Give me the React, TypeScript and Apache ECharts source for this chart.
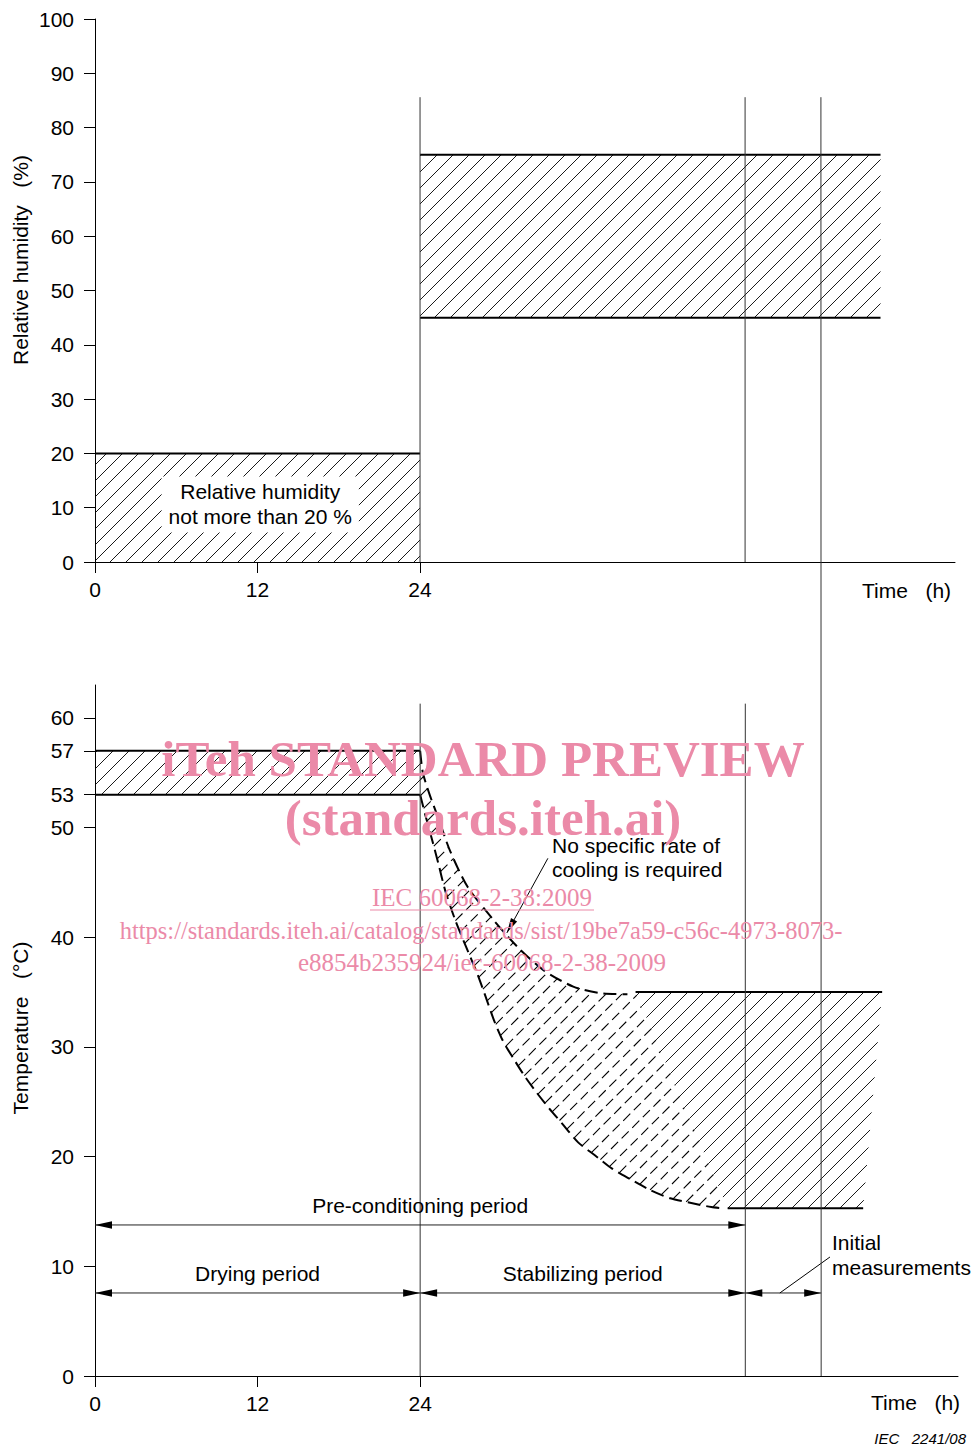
import React, { useEffect, useRef } from 'react';
import * as echarts from 'echarts';

// ---------- data ----------
const timeTicks = [0, 12, 24];
const rhTicks = [0, 10, 20, 30, 40, 50, 60, 70, 80, 90, 100];
const tempTicks = [0, 10, 20, 30, 40, 50, 53, 57, 60];

// [start h, end h, lower, upper]
const rhDrying = [0, 24, 0, 20];
const rhStabilizing = [24, 58, 45, 75];
const tempDrying = [0, 24, 53, 57];

// cooling envelope (h, °C)
const upperCooling = [
  [24, 57], [24.2, 55], [24.7, 53], [25.3, 51], [26.2, 47.9], [27.5, 44.6], [29.4, 41.6],
  [31.2, 39.1], [33.1, 37], [35.3, 35.5], [37.3, 34.9], [39.3, 34.8],
];
const lowerCooling = [
  [24, 53], [24.37, 51.2], [24.88, 48.9], [25.33, 46.8], [25.84, 44.3], [26.58, 41.6],
  [27.4, 39.1], [28.21, 36.7], [28.8, 34.7], [29.46, 32.4], [30.13, 30.5], [30.86, 29.0],
  [31.68, 27.4], [32.56, 25.9], [33.52, 24.4], [34.56, 22.9], [35.66, 21.3], [36.92, 20.1],
  [38.17, 18.9], [39.58, 17.9], [40.91, 17.0], [42.46, 16.2], [43.93, 15.8], [45.49, 15.4],
  [46.3, 15.3],
];
// stabilised limits: [start h, end h, °C]
const stabUpper = [39.9, 58.1, 35];
const stabLower = [46.7, 56.7, 15.3];

const periodMarks = [24, 48];
const measureEnd = 53.6;
const rhMarkTop = 85.6;
const tempMarkTop = 61.3;

const periods = [
  { label: 'Pre-conditioning period', from: 0, to: 48, at: 13.77 },
  { label: 'Drying period', from: 0, to: 24, at: 7.57 },
  { label: 'Stabilizing period', from: 24, to: 48, at: 7.57 },
  { label: '', from: 48, to: 53.6, at: 7.57 },
];

const rhNote = { text: 'Relative humidity\nnot more than 20 %', at: [12.2, 10.6] };
const coolingNote = { text: 'No specific rate of\ncooling is required', at: [33.73, 47.3], from: [33.43, 47.2], to: [30.4, 40.4] };
const initialNote = { text: 'Initial\nmeasurements', at: [54.4, 11.0], from: [50.55, 7.57], to: [54.25, 10.85] };

// ---------- helpers ----------
const FONT = '"Liberation Sans", Arial, sans-serif';
const SERIF = '"Liberation Serif", "Times New Roman", serif';
const HATCH = 16;

function hatchSegments(poly: number[][], step: number) {
  const sums = poly.map((p) => p[0] + p[1]);
  const cMin = Math.min(...sums);
  const cMax = Math.max(...sums);
  const segs: number[][][] = [];
  for (let c = Math.ceil(cMin / step) * step; c <= cMax; c += step) {
    const us: number[] = [];
    for (let i = 0; i < poly.length; i++) {
      const a = poly[i];
      const b = poly[(i + 1) % poly.length];
      const sa = a[0] + a[1] - c;
      const sb = b[0] + b[1] - c;
      if ((sa < 0 && sb >= 0) || (sa >= 0 && sb < 0)) {
        const t = sa / (sa - sb);
        const x = a[0] + t * (b[0] - a[0]);
        const y = a[1] + t * (b[1] - a[1]);
        us.push(x - y);
      }
    }
    us.sort((p, q) => p - q);
    for (let k = 0; k + 1 < us.length; k += 2) {
      const u1 = us[k];
      const u2 = us[k + 1];
      segs.push([[(c + u1) / 2, (c - u1) / 2], [(c + u2) / 2, (c - u2) / 2]]);
    }
  }
  return segs;
}

function arrowHead(tip: number[], from: number[], len: number, half: number) {
  const dx = tip[0] - from[0];
  const dy = tip[1] - from[1];
  const d = Math.hypot(dx, dy) || 1;
  const ux = dx / d;
  const uy = dy / d;
  const bx = tip[0] - ux * len;
  const by = tip[1] - uy * len;
  return [tip, [bx - uy * half, by + ux * half], [bx + uy * half, by - ux * half]];
}

function seg(a: number[], b: number[], w: number, dash?: number[], color = '#000') {
  const style: any = { stroke: color, lineWidth: w };
  if (dash) style.lineDash = dash;
  return { type: 'line', shape: { x1: a[0], y1: a[1], x2: b[0], y2: b[1] }, style };
}

function txt(p: number[], text: string, align: string, lineHeight = 25) {
  return {
    type: 'text', x: p[0], y: p[1],
    style: { text, fill: '#000', font: `21px ${FONT}`, align, verticalAlign: 'middle', lineHeight },
  };
}

// ---------- render functions ----------
function renderTop(params: any, api: any) {
  const P = (x: number, y: number) => api.coord([x, y]);
  const ch: any[] = [];
  for (const b of [rhDrying, rhStabilizing]) {
    const poly = [P(b[0], b[2]), P(b[1], b[2]), P(b[1], b[3]), P(b[0], b[3])];
    hatchSegments(poly, HATCH).forEach((s) => ch.push(seg(s[0], s[1], 0.9)));
  }
  ch.push(seg(P(rhDrying[0], rhDrying[3]), P(rhDrying[1], rhDrying[3]), 2));
  ch.push(seg(P(rhStabilizing[0], rhStabilizing[2]), P(rhStabilizing[1], rhStabilizing[2]), 2));
  ch.push(seg(P(rhStabilizing[0], rhStabilizing[3]), P(rhStabilizing[1], rhStabilizing[3]), 2));
  periodMarks.forEach((t) => ch.push(seg(P(t, rhMarkTop), P(t, 0), 1, undefined, '#333')));
  const c = P(rhNote.at[0], rhNote.at[1]);
  ch.push({
    type: 'text', x: c[0], y: c[1], z2: 10,
    style: {
      text: rhNote.text, fill: '#000', font: `21px ${FONT}`, align: 'center', verticalAlign: 'middle',
      lineHeight: 25, backgroundColor: '#fff', padding: [3, 7],
    },
  });
  return { type: 'group', children: ch };
}

function renderBottom(params: any, api: any) {
  const P = (x: number, y: number) => api.coord([x, y]);
  const ch: any[] = [];
  const band = [
    P(tempDrying[0], tempDrying[2]), P(tempDrying[1], tempDrying[2]),
    P(tempDrying[1], tempDrying[3]), P(tempDrying[0], tempDrying[3]),
  ];
  hatchSegments(band, HATCH).forEach((s) => ch.push(seg(s[0], s[1], 0.9)));
  const up = upperCooling.map((p) => P(p[0], p[1]));
  const lo = lowerCooling.map((p) => P(p[0], p[1]));
  const d1 = P(stabUpper[0], stabUpper[2]);
  const e1 = P(stabUpper[1], stabUpper[2]);
  const d2 = P(stabLower[0], stabLower[2]);
  const e2 = P(stabLower[1], stabLower[2]);
  const polyA = [...up, d1, d2, ...lo.slice().reverse()];
  const polyB = [d1, e1, e2, d2];
  hatchSegments(polyA, HATCH).forEach((s) => ch.push(seg(s[0], s[1], 1.1, [10, 5])));
  hatchSegments(polyB, HATCH).forEach((s) => ch.push(seg(s[0], s[1], 0.9)));

  ch.push(seg(band[3], band[2], 2));
  ch.push(seg(band[0], band[1], 2));
  ch.push({ type: 'polyline', shape: { points: up, smooth: 0.25 }, style: { stroke: '#000', lineWidth: 2, fill: null, lineDash: [13, 6] } });
  ch.push({ type: 'polyline', shape: { points: lo, smooth: 0.25 }, style: { stroke: '#000', lineWidth: 2, fill: null, lineDash: [13, 6] } });
  ch.push(seg(d1, e1, 2));
  ch.push(seg(d2, e2, 2));

  periodMarks.forEach((t) => ch.push(seg(P(t, tempMarkTop), P(t, 0), 1, undefined, '#333')));

  periods.forEach((p) => {
    const a = P(p.from, p.at);
    const b = P(p.to, p.at);
    ch.push(seg(a, b, 1, undefined, '#222'));
    ch.push({ type: 'polygon', shape: { points: arrowHead(a, b, 17, 3.8) }, style: { fill: '#000' } });
    ch.push({ type: 'polygon', shape: { points: arrowHead(b, a, 17, 3.8) }, style: { fill: '#000' } });
    if (p.label) ch.push(txt([(a[0] + b[0]) / 2, a[1] - 19], p.label, 'center'));
  });

  // cooling note
  const cf = P(coolingNote.from[0], coolingNote.from[1]);
  const ct = P(coolingNote.to[0], coolingNote.to[1]);
  ch.push(seg(cf, ct, 1));
  ch.push({ type: 'polygon', shape: { points: arrowHead(ct, cf, 15, 3.5) }, style: { fill: '#000' } });
  ch.push(txt(P(coolingNote.at[0], coolingNote.at[1]), coolingNote.text, 'left', 24));

  // initial measurements note
  ch.push(seg(P(initialNote.from[0], initialNote.from[1]), P(initialNote.to[0], initialNote.to[1]), 1));
  ch.push(txt(P(initialNote.at[0], initialNote.at[1]), initialNote.text, 'left'));

  return { type: 'group', children: ch };
}

// ---------- axes ----------
function xAxisCfg(gridIndex: number, max: number) {
  return {
    type: 'value', gridIndex, min: 0, max,
    axisLine: { show: true, onZero: false, lineStyle: { color: '#000', width: 1 } },
    splitLine: { show: false },
    axisTick: { show: true, length: 11, lineStyle: { color: '#000' }, customValues: timeTicks },
    axisLabel: { color: '#000', fontSize: 21, fontFamily: FONT, margin: 17, customValues: timeTicks },
  };
}
function yAxisCfg(gridIndex: number, max: number, ticks: number[]) {
  return {
    type: 'value', gridIndex, min: 0, max,
    axisLine: { show: true, onZero: false, lineStyle: { color: '#000', width: 1 } },
    splitLine: { show: false },
    axisTick: { show: true, length: 11, lineStyle: { color: '#000' }, customValues: ticks },
    axisLabel: { color: '#000', fontSize: 21, fontFamily: FONT, margin: 21, customValues: ticks },
  };
}

const option: any = {
  animation: false,
  backgroundColor: '#fff',
  grid: [
    { left: 95, top: 19, width: 860, height: 543, outerBoundsMode: 'none' },
    { left: 95, top: 685, width: 863, height: 691, outerBoundsMode: 'none' },
  ],
  xAxis: [xAxisCfg(0, 63.5), xAxisCfg(1, 63.7)],
  yAxis: [yAxisCfg(0, 100, rhTicks), yAxisCfg(1, 63, tempTicks)],
  series: [
    { type: 'custom', coordinateSystem: 'cartesian2d', xAxisIndex: 0, yAxisIndex: 0, data: [[0, 0]], silent: true, renderItem: renderTop },
    { type: 'custom', coordinateSystem: 'cartesian2d', xAxisIndex: 1, yAxisIndex: 1, data: [[0, 0]], silent: true, renderItem: renderBottom },
  ],
};

const PINK = '#eb8aa8';

function buildGraphics(top: number[], bot: number[]) {
  const t = (x: number, y: number, text: string, font: string, align = 'center', fill = '#000', extra: any = {}, lineHeight?: number) => {
    const style: any = { text, font, fill, align, verticalAlign: 'middle' };
    if (lineHeight) style.lineHeight = lineHeight;
    return { type: 'text', x, y, z: 50, ...extra, style };
  };
  return [
    { type: 'line', z: 40, shape: { x1: top[0], y1: top[1], x2: bot[0], y2: bot[1] }, style: { stroke: '#333', lineWidth: 1 } },
    t(20, 260, 'Relative humidity\u00a0\u00a0\u00a0(%)', `21px ${FONT}`, 'center', '#000', { rotation: Math.PI / 2 }),
    t(20, 1028, 'Temperature\u00a0\u00a0\u00a0(°C)', `21px ${FONT}`, 'center', '#000', { rotation: Math.PI / 2 }),
    t(862, 590, 'Time\u00a0\u00a0\u00a0(h)', `21px ${FONT}`, 'left'),
    t(871, 1402, 'Time\u00a0\u00a0\u00a0(h)', `21px ${FONT}`, 'left'),
    t(966, 1438, 'IEC\u00a0\u00a0\u00a02241/08', `italic 15px ${FONT}`, 'right'),
    // watermark
    t(483, 759, 'iTeh STANDARD PREVIEW', `bold 51px ${SERIF}`, 'center', PINK, {}, 40),
    t(483, 818, '(standards.iteh.ai)', `bold 51px ${SERIF}`, 'center', PINK, {}, 38),
    t(482, 897, 'IEC 60068-2-38:2009', `25px ${SERIF}`, 'center', PINK),
    { type: 'line', z: 50, shape: { x1: 370, y1: 910, x2: 594, y2: 910 }, style: { stroke: PINK, lineWidth: 1.2 } },
    t(481, 930, 'https://standards.iteh.ai/catalog/standards/sist/19be7a59-c56c-4973-8073-', `24.5px ${SERIF}`, 'center', PINK),
    t(482, 962, 'e8854b235924/iec-60068-2-38-2009', `25px ${SERIF}`, 'center', PINK),
  ];
}

export default function App() {
  const ref = useRef<HTMLDivElement>(null);
  useEffect(() => {
    document.body.style.margin = '0';
    const chart = echarts.init(ref.current as HTMLDivElement, null, { renderer: 'svg' });
    chart.setOption(option);
    const top = chart.convertToPixel({ gridIndex: 0 } as any, [measureEnd, rhMarkTop]) as any;
    const bot = chart.convertToPixel({ gridIndex: 1 } as any, [measureEnd, 0]) as any;
    chart.setOption({ graphic: buildGraphics(top, bot) });
    return () => chart.dispose();
  }, []);
  return <div ref={ref} style={{ width: 975, height: 1447 }} />;
}
